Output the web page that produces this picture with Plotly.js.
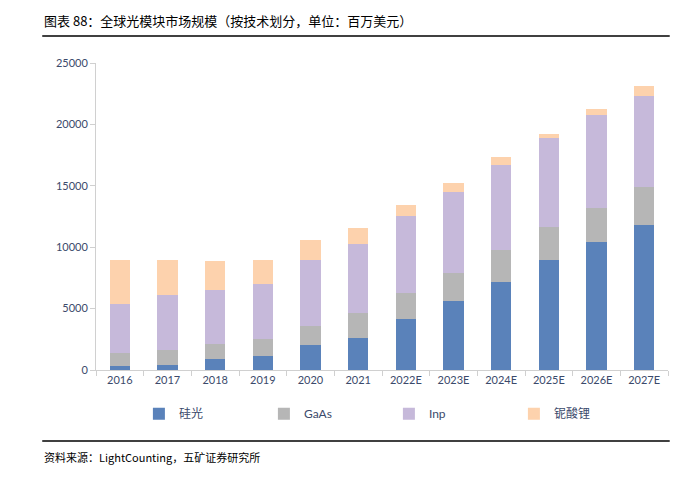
<!DOCTYPE html>
<html><head><meta charset="utf-8">
<script src="https://cdn.plot.ly/plotly-3.0.1.min.js"></script>
<style>html,body{margin:0;padding:0;background:#fff}#chart{width:688px;height:481px}</style>
</head><body><div id="chart"></div>
<script>
const categories = ['2016','2017','2018','2019','2020','2021','2022E','2023E','2024E','2025E','2026E','2027E'];
const siPhotonics = [330, 410, 900, 1140, 2035, 2600, 4150, 5620, 7170, 8960, 10420, 11810];
const gaas        = [1030, 1220, 1220, 1385, 1545, 2040, 2120, 2280, 2600, 2680, 2770, 3090];
const inp         = [4015, 4480, 4390, 4475, 5380, 5620, 6270, 6600, 6930, 7250, 7580, 7410];
const lnbo        = [3585, 2850, 2370, 1960, 1630, 1300, 900, 730, 650, 330, 480, 820];
const seriesNames = ['硅光', 'GaAs', 'Inp', '铌酸锂'];
const tickVals = [0, 5000, 10000, 15000, 20000, 25000];

const colors = ['#5a82ba', '#b6b6b6', '#c6b9da', '#fdd2ad'];
const dataSets = [siPhotonics, gaas, inp, lnbo];
const traces = dataSets.map((vals, i) => ({
  type: 'bar', x: categories, y: vals, name: seriesNames[i],
  marker: {color: colors[i], line: {width: 0}},
  hoverinfo: 'x+y+name'
}));

const txt = '#3b4a6b';
const fontFam = 'Lato, "Noto Sans CJK SC", sans-serif';
const layout = {
  width: 688, height: 481,
  margin: {l: 96, r: 20, t: 63, b: 111},
  barmode: 'stack', bargap: 0.57,
  paper_bgcolor: '#fff', plot_bgcolor: '#fff',
  font: {family: fontFam, size: 11, color: txt},
  showlegend: true,
  legend: {orientation: 'h', x: 0.075, xanchor: 'left', y: -0.095, yanchor: 'top',
           entrywidth: 80, entrywidthmode: 'pixels', traceorder: 'normal',
           font: {size: 12, color: txt}, itemwidth: 30},
  xaxis: {type: 'category', showline: true, linecolor: '#d0d0d0', linewidth: 1,
          ticks: 'outside', ticklen: 5, tickcolor: '#d0d0d0', tickson: 'boundaries',
          showgrid: false, tickfont: {size: 11, color: txt}, fixedrange: true},
  yaxis: {range: [0, 25000], tickvals: tickVals, ticktext: tickVals.map(String),
          showline: true, linecolor: '#d0d0d0', linewidth: 1, ticks: 'outside', ticklen: 5,
          tickcolor: '#d0d0d0', showgrid: false, zeroline: false,
          tickfont: {size: 11, color: txt}, fixedrange: true},
  shapes: [
    {type: 'line', xref: 'paper', yref: 'paper', x0: -0.094, x1: 1.003, y0: 1.088, y1: 1.088,
     line: {color: '#000', width: 1.5}},
    {type: 'line', xref: 'paper', yref: 'paper', x0: -0.094, x1: 1.003, y0: -0.231, y1: -0.231,
     line: {color: '#000', width: 1.5}}
  ],
  annotations: [
    {xref: 'paper', yref: 'paper', x: -0.094, y: 1.102, xanchor: 'left', yanchor: 'bottom',
     text: '图表 88：全球光模块市场规模（按技术划分，单位：百万美元）', showarrow: false,
     font: {family: '"Noto Sans CJK SC", sans-serif', size: 13, color: '#000'}},
    {xref: 'paper', yref: 'paper', x: -0.094, y: -0.25, xanchor: 'left', yanchor: 'top',
     text: '资料来源：LightCounting，五矿证券研究所', showarrow: false,
     font: {family: '"Noto Sans CJK SC", sans-serif', size: 11, color: '#000'}}
  ]
};
Plotly.newPlot('chart', traces, layout, {displayModeBar: false, staticPlot: true});
</script></body></html>
